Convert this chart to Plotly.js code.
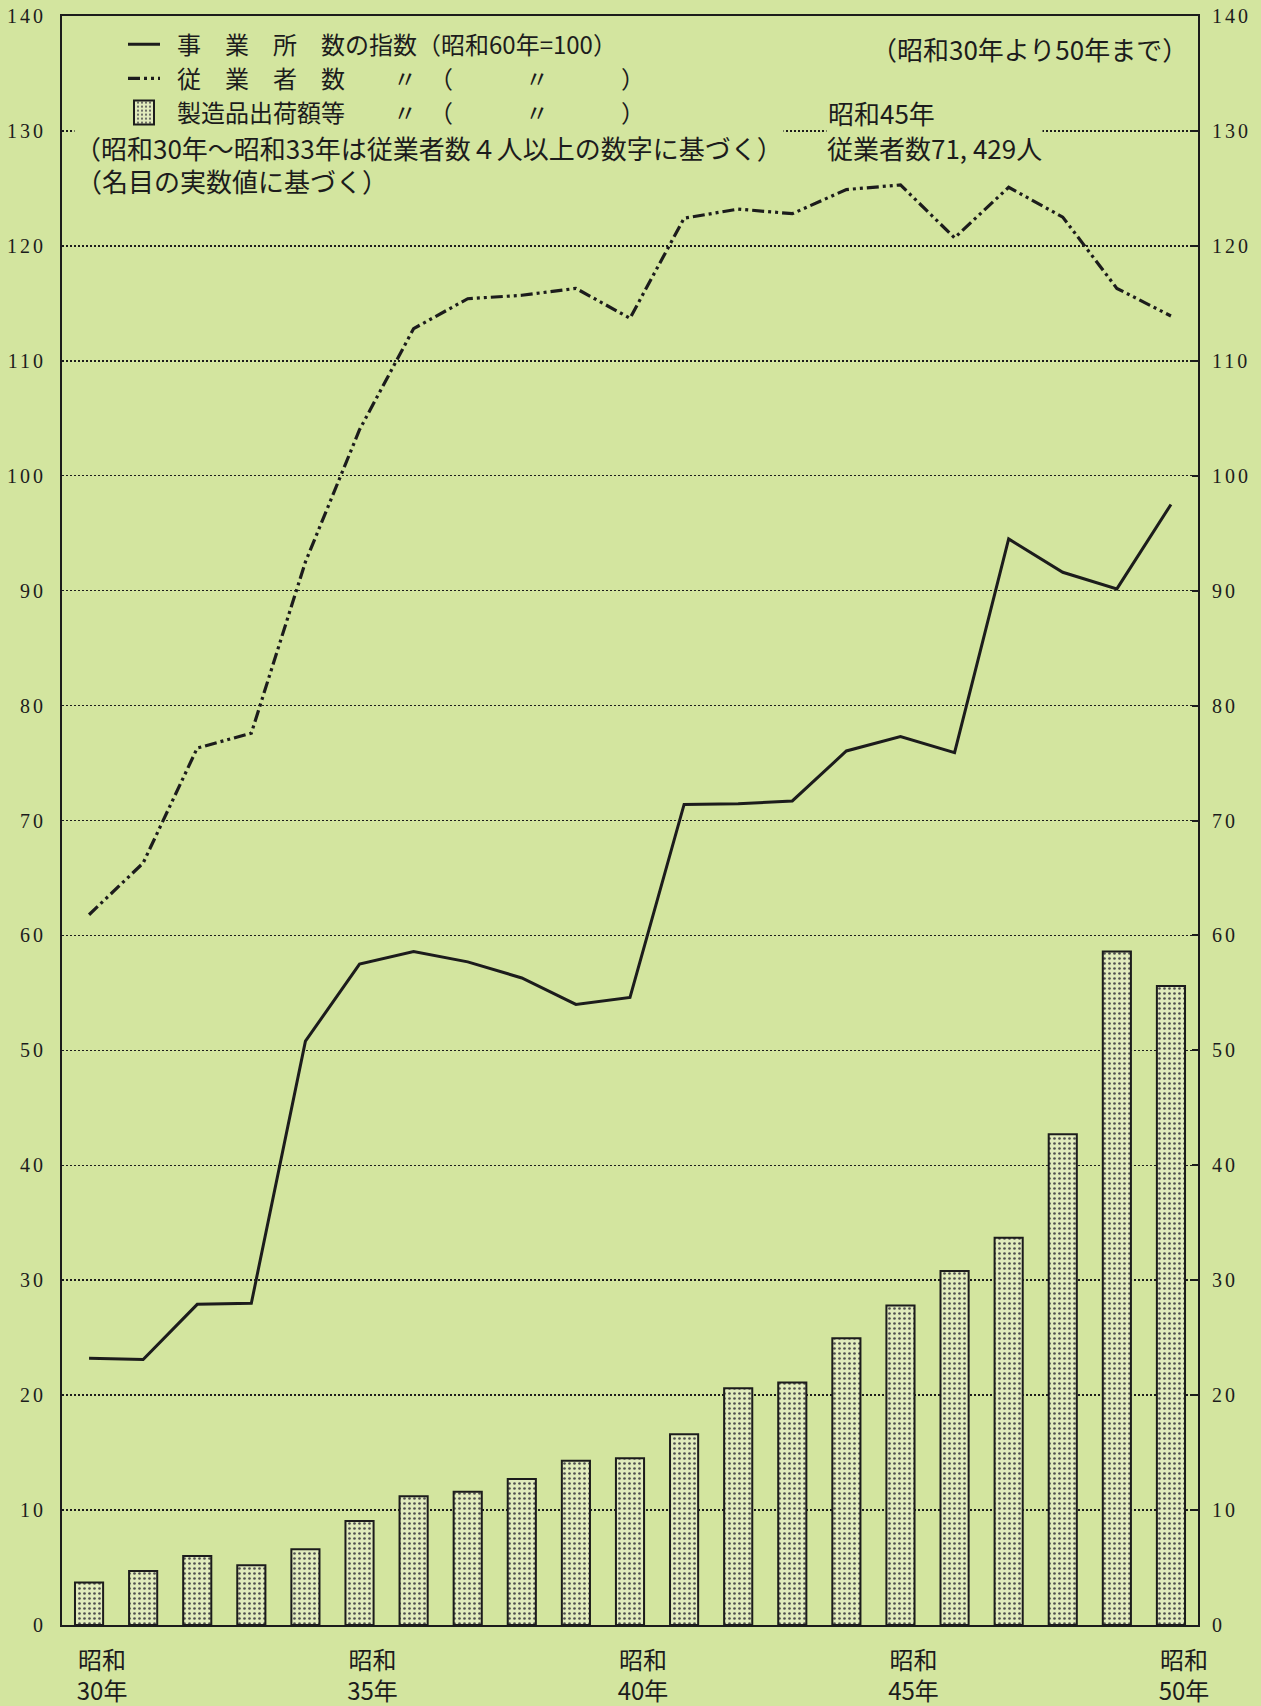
<!DOCTYPE html>
<html>
<head>
<meta charset="utf-8">
<script src="https://cdn.plot.ly/plotly-3.0.1.min.js"></script>
<style>
  html, body { margin: 0; padding: 0; background: #d3e59f; }
  #chart { width: 1261px; height: 1706px; }
  .ytick text, .y2tick text { letter-spacing: 3px; }
  .legend path[d="M6,6H-6V-6H6Z"] { d: path("M10,12H-10V-12H10Z"); }
</style>
</head>
<body>
<div id="chart"></div>
<script>
// Years (昭和30年 … 昭和50年)
const years = [30,31,32,33,34,35,36,37,38,39,40,41,42,43,44,45,46,47,48,49,50];

// 事業所数の指数 (昭和60年=100)
const establishments = [23.2,23.1,27.9,28.0,50.8,57.5,58.6,57.7,56.3,54.0,54.6,71.4,71.45,71.7,76.05,77.3,75.9,94.5,91.6,90.15,97.5];

// 従業者数の指数
const employees = [61.8,66.3,76.3,77.6,92.5,104.0,112.8,115.4,115.7,116.3,113.7,122.4,123.2,122.8,124.9,125.3,120.7,125.1,122.5,116.3,113.9];

// 製造品出荷額等の指数
const shipments = [3.7,4.7,6.0,5.2,6.6,9.05,11.2,11.6,12.7,14.3,14.5,16.6,20.6,21.1,24.96,27.8,30.8,33.7,42.7,58.6,55.6];

// Tick labels
const xTickVals = [30,35,40,45,50];
const xTickText = ['昭和<br>30年','昭和<br>35年','昭和<br>40年','昭和<br>45年','昭和<br>50年'];
const yTickVals = [0,10,20,30,40,50,60,70,80,90,100,110,120,130,140];

// Legend / note texts
const legendNames = [
  '\u2002事　業　所　数の指数（昭和60年=100）',
  '\u2002従　業　者　数　　〃　（　　　〃　　　）',
  '\u2002製造品出荷額等　　〃　（　　　〃　　　）'
];
const noteBasis = '（昭和30年〜昭和33年は従業者数４人以上の数字に基づく）';
const noteNominal = '（名目の実数値に基づく）';
const notePeriod = '（昭和30年より50年まで）';
const note45a = '昭和45年';
const note45b = '従業者数71, 429人';

const BG = '#d3e59f';
const INK = '#1c1c1c';
const CJK = '"Noto Sans CJK JP", "Noto Sans", sans-serif';
const SERIF = '"Liberation Serif", "DejaVu Serif", serif';

const traces = [
  {
    type: 'scatter', mode: 'lines', x: years, y: establishments,
    name: legendNames[0],
    line: { color: INK, width: 3 },
    yaxis: 'y'
  },
  {
    type: 'scatter', mode: 'lines', x: years, y: employees,
    name: legendNames[1],
    line: { color: INK, width: 3.2, dash: '12px,4px,3px,4px,3px,4px' },
    yaxis: 'y'
  },
  {
    type: 'bar', x: years, y: shipments,
    name: legendNames[2],
    width: 0.52,
    marker: {
      color: '#e1ebbd',
      line: { color: INK, width: 2 },
      pattern: { shape: '.', fgcolor: '#505050', bgcolor: '#e1ebbd', size: 5, solidity: 0.22 }
    },
    yaxis: 'y2'
  }
];

const layout = {
  width: 1261, height: 1706,
  margin: { l: 62, r: 63, t: 16, b: 81 },
  paper_bgcolor: BG, plot_bgcolor: BG,
  showlegend: true,
  legend: {
    x: 0.0537, xanchor: 'left', y: 0.9962, yanchor: 'top',
    bgcolor: 'rgba(0,0,0,0)', borderwidth: 0,
    font: { family: CJK, size: 24, color: INK },
    itemwidth: 32, traceorder: 'normal'
  },
  xaxis: {
    range: [29.5, 50.5],
    tickvals: xTickVals, ticktext: xTickText,
    ticks: '', showgrid: false, zeroline: false,
    showline: true, linecolor: INK, linewidth: 2, mirror: true,
    tickfont: { family: CJK, size: 24, color: INK },
    ticklabelshift: 13, ticklabelstandoff: 13
  },
  yaxis: {
    range: [0, 140], tickvals: yTickVals,
    showgrid: true, gridcolor: INK, gridwidth: 1.5, griddash: '2px,2px',
    zeroline: false, showline: true, linecolor: INK, linewidth: 2,
    ticks: '', ticklabelstandoff: 10,
    tickfont: { family: SERIF, size: 20, color: INK }
  },
  yaxis2: {
    range: [0, 140], tickvals: yTickVals, overlaying: 'y', side: 'right',
    showgrid: false, zeroline: false, showline: true, linecolor: INK, linewidth: 2,
    ticks: 'inside', ticklen: 6, tickwidth: 2, tickcolor: INK, ticklabelstandoff: 8,
    tickfont: { family: SERIF, size: 20, color: INK }
  },
  annotations: [
    { text: noteBasis, xref: 'paper', yref: 'y', x: (74-62)/1136, y: 128.6, xanchor: 'left', yanchor: 'middle',
      showarrow: false, font: { family: CJK, size: 26, color: INK }, bgcolor: BG, borderpad: 0 },
    { text: noteNominal, xref: 'paper', yref: 'y', x: (74-62)/1136, y: 125.7, xanchor: 'left', yanchor: 'middle',
      showarrow: false, font: { family: CJK, size: 26, color: INK } },
    { text: notePeriod, xref: 'paper', yref: 'y', x: (1190-62)/1136, y: 137.2, xanchor: 'right', yanchor: 'middle',
      showarrow: false, font: { family: CJK, size: 26, color: INK } },
    { text: note45a, xref: 'paper', yref: 'y', x: (826-62)/1136, y: 131.6, xanchor: 'left', yanchor: 'middle',
      showarrow: false, font: { family: CJK, size: 26, color: INK } },
    { text: note45b, xref: 'paper', yref: 'y', x: (826-62)/1136, y: 128.6, xanchor: 'left', yanchor: 'middle',
      showarrow: false, font: { family: CJK, size: 26, color: INK }, bgcolor: BG, borderpad: 0 }
  ]
};

Plotly.newPlot('chart', traces, layout, { displayModeBar: false, staticPlot: true });
</script>
</body>
</html>
